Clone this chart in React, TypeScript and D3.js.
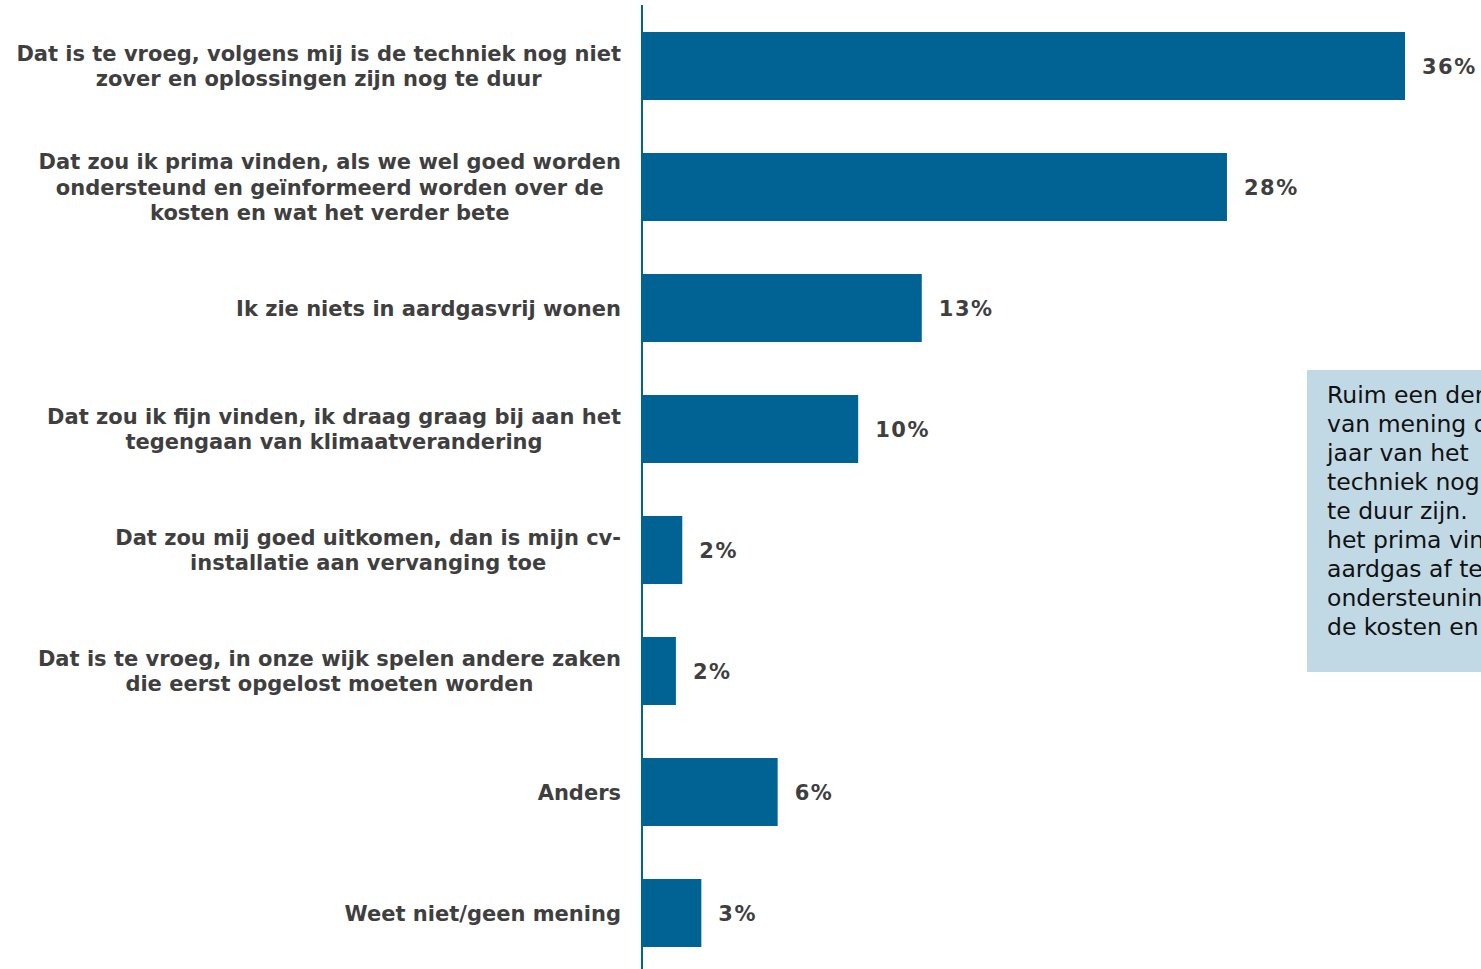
import React, { useEffect, useRef } from "react";
import * as d3 from "d3";

const categories: string[][] = [
  ["Dat is te vroeg, volgens mij is de techniek nog niet", "zover en oplossingen zijn nog te duur"],
  ["Dat zou ik prima vinden, als we wel goed worden", "ondersteund en geïnformeerd worden over de", "kosten en wat het verder bete"],
  ["Ik zie niets in aardgasvrij wonen"],
  ["Dat zou ik fijn vinden, ik draag graag bij aan het", "tegengaan van klimaatverandering"],
  ["Dat zou mij goed uitkomen, dan is mijn cv-", "installatie aan vervanging toe"],
  ["Dat is te vroeg, in onze wijk spelen andere zaken", "die eerst opgelost moeten worden"],
  ["Anders"],
  ["Weet niet/geen mening"],
];
const values: number[] = [36, 27.6, 13.2, 10.2, 1.9, 1.6, 6.4, 2.8];
const valueLabels: string[] = ["36%", "28%", "13%", "10%", "2%", "2%", "6%", "3%"];

const noteLines: string[] = [
  "Ruim een derde van de bewoners is",
  "van mening dat het over een aantal",
  "jaar van het  aardgas af gaan te vroeg is,",
  "techniek nog niet zover is en oplossingen",
  "te duur zijn.  Ruim een kwart zou",
  "het prima vinden om van het",
  "aardgas af te gaan, mits er goede",
  "ondersteuning en informatie is over",
  "de kosten en wat het betekent.",
];

const W = 1481;
const H = 969;
const BAR = "#016394";
const TXT = "#3f3f3f";
const FONT = "'DejaVu Sans', Verdana, sans-serif";

export default function App() {
  const ref = useRef<SVGSVGElement | null>(null);

  useEffect(() => {
    const svg = d3.select(ref.current);
    svg.selectAll("*").remove();

    const ids = categories.map((_, i) => String(i));
    const x = d3.scaleLinear().domain([0, 36]).range([642, 1405]);
    const y = d3
      .scaleBand<string>()
      .domain(ids)
      .range([5.5, 973.5])
      .paddingInner(53 / 121)
      .paddingOuter(53 / 242);

    // annotation box
    const note = svg.append("g");
    note
      .append("rect")
      .attr("x", 1307)
      .attr("y", 370)
      .attr("width", 400)
      .attr("height", 302)
      .attr("fill", "#c1d9e5");
    note
      .selectAll("text")
      .data(noteLines)
      .join("text")
      .attr("x", 1327)
      .attr("y", (_, i) => 395 + i * 28.9)
      .attr("dy", "0.36em")
      .attr("font-family", FONT)
      .attr("font-size", 23.5)
      .attr("fill", "#111")
      .style("white-space", "pre")
      .text((d) => d);

    // bars
    svg
      .append("g")
      .selectAll("rect")
      .data(values)
      .join("rect")
      .attr("x", x(0))
      .attr("y", (_, i) => y(ids[i])!)
      .attr("width", (d) => x(d) - x(0))
      .attr("height", y.bandwidth())
      .attr("fill", BAR);

    // axis line
    svg
      .append("line")
      .attr("x1", 642)
      .attr("x2", 642)
      .attr("y1", 5)
      .attr("y2", H)
      .attr("stroke", BAR)
      .attr("stroke-width", 2);

    // value labels
    svg
      .append("g")
      .selectAll("text")
      .data(values)
      .join("text")
      .attr("x", (d) => x(d) + 17)
      .attr("y", (_, i) => y(ids[i])! + y.bandwidth() / 2)
      .attr("dy", "0.36em")
      .attr("font-family", FONT)
      .attr("font-weight", "bold")
      .attr("font-size", 21)
      .attr("letter-spacing", 1.5)
      .attr("fill", TXT)
      .text((_, i) => valueLabels[i]);

    // category labels
    const lh = 25.6;
    categories.forEach((lines, i) => {
      const cy = y(ids[i])! + y.bandwidth() / 2;
      const g = svg.append("g");
      const texts = g
        .selectAll("text")
        .data(lines)
        .join("text")
        .attr("y", (_, j) => cy + (j - (lines.length - 1) / 2) * lh)
        .attr("dy", "0.36em")
        .attr("font-family", FONT)
        .attr("font-weight", "bold")
        .attr("font-size", 21)
        .attr("fill", TXT)
        .attr("text-anchor", "middle")
        .text((d) => d);
      let maxW = 0;
      texts.each(function () {
        maxW = Math.max(maxW, (this as SVGTextElement).getComputedTextLength());
      });
      texts.attr("x", 621 - maxW / 2);
    });
  }, []);

  return (
    <svg
      ref={ref}
      width={W}
      height={H}
      style={{ position: "absolute", left: 0, top: 0, background: "#fff" }}
    />
  );
}
